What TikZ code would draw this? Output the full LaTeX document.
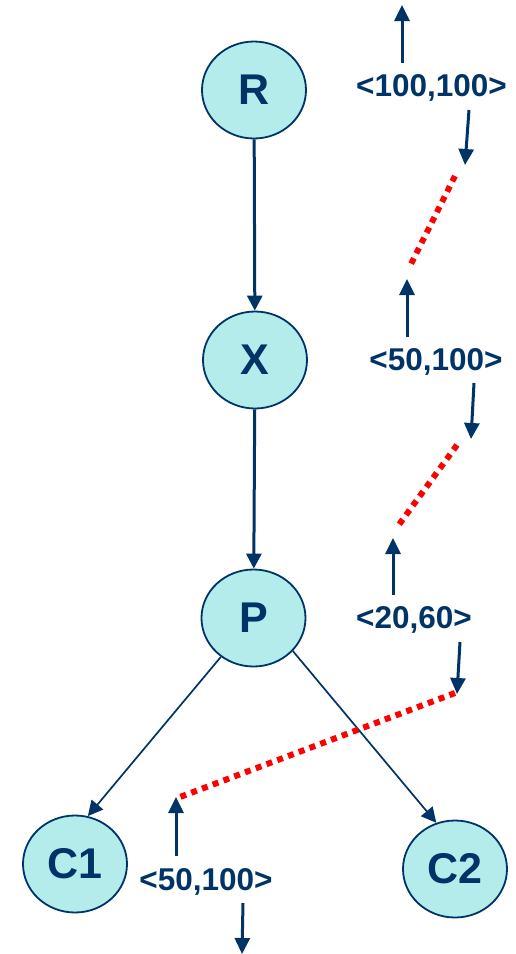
\documentclass[tikz,border=0pt]{standalone}
\usepackage{fontspec}
\setmainfont{Liberation Sans}
\usetikzlibrary{shapes.geometric,arrows.meta}
\definecolor{navy}{RGB}{0,51,102}
\definecolor{cyanfill}{RGB}{180,236,236}
\definecolor{dotred}{RGB}{255,0,0}
\tikzset{
  tnode/.style={ellipse, draw=navy, line width=1.8pt, fill=cyanfill,
    minimum width=104pt, minimum height=97pt, inner sep=0pt,
    text=navy, font=\fontsize{43}{50}\selectfont\bfseries},
  tag/.style={inner sep=0pt, text=navy, font=\fontsize{31.5}{38}\selectfont\bfseries},
  trunk/.style={draw=navy, line width=3pt, -{Triangle[length=15pt,width=15pt]}},
  branch/.style={draw=navy, line width=1.7pt, -{Triangle[length=15pt,width=15pt]}},
  flow/.style={draw=navy, line width=3pt, -{Triangle[length=16pt,width=15pt]}},
  link/.style={draw=dotred, line width=6pt, dash pattern=on 6pt off 5.5pt}
}
\begin{document}
\begin{tikzpicture}[x=1pt, y=-1pt]
\useasboundingbox (0,0) rectangle (515,954);

% tree nodes
\node[tnode] (R)  at (254,90)  {R};
\node[tnode] (X)  at (255,360) {X};
\node[tnode] (P)  at (253.5,618) {P};
\node[tnode] (C1) at (75,864)  {C1};
\node[tnode] (C2) at (455,869) {C2};

% tree edges
\draw[trunk] (R) -- (X);
\draw[trunk] (X) -- (P);
\draw[branch] (P.230) -- (C1.75);
\draw[branch] (P.-40) -- (C2.112);

% interval labels
\node[tag] (L1) at (431.5,88)  {<100,100>};
\node[tag] (L2) at (436,362)   {<50,100>};
\node[tag] (L3) at (414,620)   {<20,60>};
\node[tag] (L4) at (206,882)   {<50,100>};

% arrow ends
\coordinate (u1a) at (402,63);  \coordinate (u1b) at (402,5);
\coordinate (d1a) at (469,110); \coordinate (d1b) at (465,165);
\coordinate (u2a) at (407,337); \coordinate (u2b) at (407,279);
\coordinate (d2a) at (474,383); \coordinate (d2b) at (471,439);
\coordinate (u3a) at (393,595); \coordinate (u3b) at (393,538);
\coordinate (d3a) at (460,642); \coordinate (d3b) at (457,694);
\coordinate (u4a) at (176,856); \coordinate (u4b) at (176,797);
\coordinate (d4a) at (243,903); \coordinate (d4b) at (242,954);

\draw[flow] (u1a) -- (u1b);
\draw[flow] (d1a) -- (d1b);
\draw[flow] (u2a) -- (u2b);
\draw[flow] (d2a) -- (d2b);
\draw[flow] (u3a) -- (u3b);
\draw[flow] (d3a) -- (d3b);
\draw[flow] (u4a) -- (u4b);
\draw[flow] (d4a) -- (d4b);

% dotted links between consecutive intervals
\coordinate (k1a) at (455,176); \coordinate (k1b) at (409,268);
\coordinate (k2a) at (457,445); \coordinate (k2b) at (398,526);
\coordinate (k3a) at (455,693); \coordinate (k3b) at (180,797);
\draw[link] (k1a) -- (k1b);
\draw[link] (k2a) -- (k2b);
\draw[link] (k3a) -- (k3b);
\end{tikzpicture}
\end{document}
